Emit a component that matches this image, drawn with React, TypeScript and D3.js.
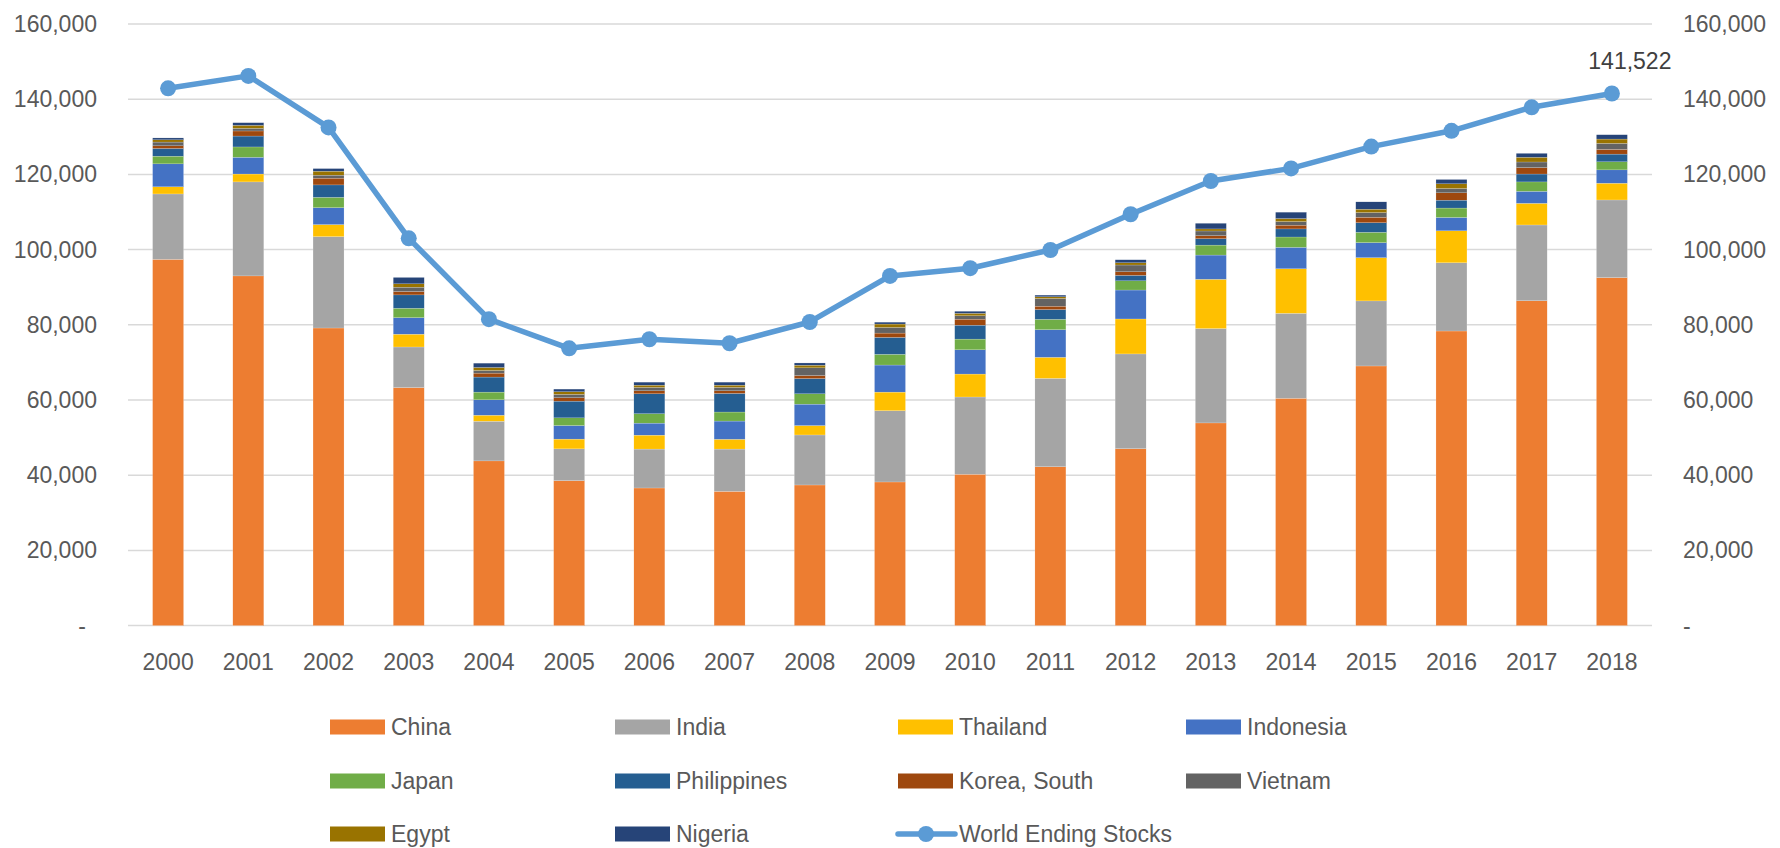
import React, { useEffect, useRef } from 'react';
import * as d3 from 'd3';

const YEARS = ['2000', '2001', '2002', '2003', '2004', '2005', '2006', '2007', '2008', '2009', '2010', '2011', '2012', '2013', '2014', '2015', '2016', '2017', '2018'];

const CHINA = [97400, 93000, 79150, 63300, 43800, 38550, 36600, 35700, 37400, 38200, 40250, 42250, 47050, 53900, 60450, 69050, 78350, 86400, 92550];
const INDIA = [17400, 25000, 24300, 10800, 10550, 8450, 10350, 11250, 13300, 18950, 20550, 23500, 25200, 25100, 22600, 17300, 18150, 20150, 20650];
const THAILAND = [1900, 2100, 3200, 3400, 1600, 2600, 3700, 2600, 2500, 4950, 6100, 5600, 9300, 13100, 11850, 11500, 8500, 5750, 4450];
const INDONESIA = [6100, 4450, 4500, 4400, 4100, 3600, 3200, 4850, 5700, 7200, 6450, 7350, 7700, 6450, 5700, 4000, 3550, 3200, 3550];
const JAPAN = [2050, 2750, 2750, 2500, 2050, 2050, 2500, 2400, 2750, 2850, 2850, 2750, 2450, 2650, 2750, 2750, 2500, 2500, 2150];
const PHILIPPINES = [2050, 2900, 3300, 3550, 4000, 4450, 5300, 4950, 4050, 4500, 3700, 2600, 1450, 1700, 2150, 2550, 2100, 2100, 2050];
const KOREA = [700, 1350, 1800, 900, 1050, 900, 800, 700, 800, 1150, 1600, 900, 950, 800, 1000, 1450, 1950, 1700, 1250];
const VIETNAM = [1000, 700, 800, 1150, 700, 900, 900, 900, 2050, 1500, 900, 2050, 1800, 1250, 950, 1250, 1150, 1500, 1600];
const EGYPT = [600, 800, 1050, 900, 800, 700, 600, 600, 700, 900, 650, 450, 600, 550, 800, 900, 1250, 1250, 1150];
const NIGERIA = [500, 700, 700, 1700, 1150, 700, 800, 800, 600, 500, 550, 450, 800, 1500, 1700, 1950, 1150, 1050, 1150];

const WORLD = [142900, 146200, 132500, 103000, 81500, 73750, 76150, 75100, 80750, 93000, 95050, 99900, 109400, 118250, 121600, 127400, 131600, 137850, 141522];

const SERIES = [
  { name: 'China', values: CHINA, color: '#ED7D31' },
  { name: 'India', values: INDIA, color: '#A5A5A5' },
  { name: 'Thailand', values: THAILAND, color: '#FFC000' },
  { name: 'Indonesia', values: INDONESIA, color: '#4472C4' },
  { name: 'Japan', values: JAPAN, color: '#70AD47' },
  { name: 'Philippines', values: PHILIPPINES, color: '#255E91' },
  { name: 'Korea, South', values: KOREA, color: '#9E480E' },
  { name: 'Vietnam', values: VIETNAM, color: '#636363' },
  { name: 'Egypt', values: EGYPT, color: '#997300' },
  { name: 'Nigeria', values: NIGERIA, color: '#264478' },
];

const TICKS = [0, 20000, 40000, 60000, 80000, 100000, 120000, 140000, 160000];

const LINE_COLOR = '#5B9BD5';
const FONT = '"Liberation Sans", Arial, sans-serif';

const Chart = () => {
  const svgRef = useRef(null);

  useEffect(() => {
    const WIDTH = 1780;
    const HEIGHT = 848;
    const svg = d3.select(svgRef.current).attr('width', WIDTH).attr('height', HEIGHT);
    svg.selectAll('*').remove();

    const left = 128;
    const right = 1652;
    const x = d3.scaleBand().domain(YEARS).range([left, right]).padding(0);
    const y = d3.scaleLinear().domain([0, 160000]).range([625.6, 24]);
    const barW = 31;
    const fmt = d3.format(',');

    // gridlines
    svg.append('g')
      .selectAll('line')
      .data(TICKS)
      .enter()
      .append('line')
      .attr('x1', left)
      .attr('x2', right)
      .attr('y1', (d) => y(d))
      .attr('y2', (d) => y(d))
      .attr('stroke', '#D9D9D9')
      .attr('stroke-width', 1.5);

    // axis labels, left and right
    const tickLabel = (d) => (d === 0 ? '-' : fmt(d));
    svg.append('g')
      .selectAll('text')
      .data(TICKS)
      .enter()
      .append('text')
      .attr('x', (d) => (d === 0 ? 86 : 97))
      .attr('y', (d) => y(d))
      .attr('dy', '0.35em')
      .attr('text-anchor', 'end')
      .attr('font-family', FONT)
      .attr('font-size', 23)
      .attr('fill', '#595959')
      .text(tickLabel);

    svg.append('g')
      .selectAll('text')
      .data(TICKS)
      .enter()
      .append('text')
      .attr('x', 1683)
      .attr('y', (d) => y(d))
      .attr('dy', '0.35em')
      .attr('font-family', FONT)
      .attr('font-size', 23)
      .attr('fill', '#595959')
      .text(tickLabel);

    svg.append('g')
      .selectAll('text')
      .data(YEARS)
      .enter()
      .append('text')
      .attr('x', (d) => x(d) + x.bandwidth() / 2)
      .attr('y', 662)
      .attr('dy', '0.35em')
      .attr('text-anchor', 'middle')
      .attr('font-family', FONT)
      .attr('font-size', 23)
      .attr('fill', '#595959')
      .text((d) => d);

    // stacked bars
    const table = YEARS.map((yr, i) => {
      const row = { year: yr };
      SERIES.forEach((s) => { row[s.name] = s.values[i]; });
      return row;
    });
    const stack = d3.stack().keys(SERIES.map((s) => s.name))(table);

    svg.append('g')
      .selectAll('g')
      .data(stack)
      .enter()
      .append('g')
      .attr('fill', (d, i) => SERIES[i].color)
      .selectAll('rect')
      .data((d) => d)
      .enter()
      .append('rect')
      .attr('x', (d) => x(d.data.year) + x.bandwidth() / 2 - barW / 2)
      .attr('width', barW)
      .attr('y', (d) => y(d[1]))
      .attr('height', (d) => y(d[0]) - y(d[1]))
      .attr('stroke', '#ffffff')
      .attr('stroke-opacity', 0.6)
      .attr('stroke-width', 0.3);

    // world ending stocks line
    const cx = (i) => x(YEARS[i]) + x.bandwidth() / 2;
    const line = d3.line().x((d, i) => cx(i)).y((d) => y(d));
    svg.append('path')
      .datum(WORLD)
      .attr('d', line)
      .attr('fill', 'none')
      .attr('stroke', LINE_COLOR)
      .attr('stroke-width', 5.5)
      .attr('stroke-linejoin', 'round');

    svg.append('g')
      .selectAll('circle')
      .data(WORLD)
      .enter()
      .append('circle')
      .attr('cx', (d, i) => cx(i))
      .attr('cy', (d) => y(d))
      .attr('r', 8)
      .attr('fill', LINE_COLOR);

    const last = WORLD.length - 1;
    svg.append('text')
      .attr('x', cx(last) + 18)
      .attr('y', y(WORLD[last]) - 33)
      .attr('dy', '0.35em')
      .attr('text-anchor', 'middle')
      .attr('font-family', FONT)
      .attr('font-size', 23)
      .attr('fill', '#404040')
      .text(fmt(WORLD[last]));

    // legend
    const colX = [330, 615, 898, 1186];
    const rowY = [727, 781, 834];
    const items = SERIES.map((s) => ({ name: s.name, color: s.color, kind: 'bar' }))
      .concat([{ name: 'World Ending Stocks', color: LINE_COLOR, kind: 'line' }]);
    const legend = svg.append('g');
    items.forEach((it, i) => {
      const lx = colX[i % 4];
      const ly = rowY[Math.floor(i / 4)];
      if (it.kind === 'bar') {
        legend.append('rect')
          .attr('x', lx)
          .attr('y', ly - 7.5)
          .attr('width', 55)
          .attr('height', 15)
          .attr('fill', it.color);
      } else {
        legend.append('line')
          .attr('x1', lx)
          .attr('x2', lx + 57)
          .attr('y1', ly)
          .attr('y2', ly)
          .attr('stroke', it.color)
          .attr('stroke-width', 5.5)
          .attr('stroke-linecap', 'round');
        legend.append('circle')
          .attr('cx', lx + 28)
          .attr('cy', ly)
          .attr('r', 8)
          .attr('fill', it.color);
      }
      legend.append('text')
        .attr('x', lx + 61)
        .attr('y', ly)
        .attr('dy', '0.35em')
        .attr('font-family', FONT)
        .attr('font-size', 23)
        .attr('fill', '#595959')
        .text(it.name);
    });
  }, []);

  return <svg ref={svgRef} style={{ position: 'absolute', left: 0, top: 0, background: '#fff' }}></svg>;
};

export default function App() {
  return <Chart />;
}
